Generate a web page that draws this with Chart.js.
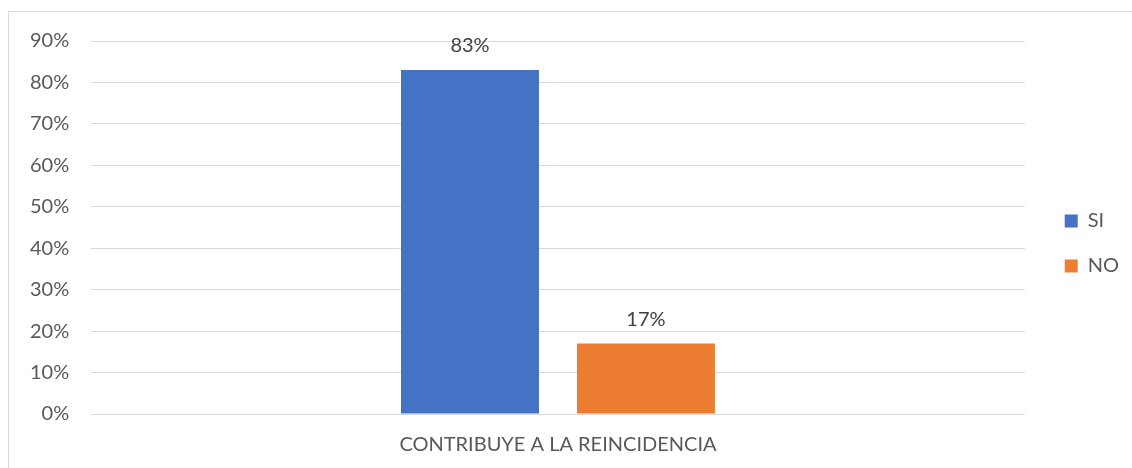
<!DOCTYPE html>
<html>
<head>
<meta charset="utf-8">
<script src="https://cdn.jsdelivr.net/npm/chart.js@4"></script>
<style>
  html, body { margin: 0; padding: 0; background: #fff; }
  #frame { position: absolute; left: 8px; top: 11px; width: 1140px; height: 470px; border: 1px solid #d9d9d9; box-sizing: border-box; }
  #wrap { position: absolute; left: 0; top: 0; width: 1132px; height: 468px; }
</style>
</head>
<body>
<div id="frame"></div>
<div id="wrap"><canvas id="chart"></canvas></div>
<script>
  const categories = ['CONTRIBUYE A LA REINCIDENCIA'];
  const siValues = [83];
  const noValues = [17];
  const yTicks = [0, 10, 20, 30, 40, 50, 60, 70, 80, 90];

  // draws the value above each bar
  const valueLabels = {
    id: 'valueLabels',
    afterDatasetsDraw(chart) {
      const ctx = chart.ctx;
      ctx.save();
      ctx.font = '20px Lato';
      ctx.fillStyle = '#404040';
      ctx.textAlign = 'center';
      ctx.textBaseline = 'bottom';
      chart.data.datasets.forEach((ds, i) => {
        chart.getDatasetMeta(i).data.forEach((bar, j) => {
          ctx.fillText(ds.data[j] + '%', bar.x, bar.y - 14);
        });
      });
      ctx.restore();
    }
  };

  // push the legend a bit away from the plot area
  const legendGap = {
    id: 'legendGap',
    afterUpdate(chart) {
      chart.legend.left += 15;
      chart.legend.right += 15;
      chart.legend.top -= 15;
      chart.legend.bottom -= 15;
    }
  };

  const ctx = document.getElementById('chart').getContext('2d');
  new Chart(ctx, {
    type: 'bar',
    data: {
      labels: categories,
      datasets: [
        { label: 'SI', data: siValues, backgroundColor: '#4472c4' },
        { label: 'NO', data: noValues, backgroundColor: '#ed7d31' }
      ]
    },
    options: {
      responsive: true,
      maintainAspectRatio: false,
      animation: false,
      layout: { padding: { left: 8, right: 18, top: 41, bottom: -8 } },
      datasets: { bar: { categoryPercentage: 0.377, barPercentage: 0.784 } },
      scales: {
        x: {
          grid: { display: false, drawTicks: false },
          border: { display: false },
          ticks: { color: '#595959', font: { family: 'Lato', size: 20 }, padding: 19 }
        },
        y: {
          min: 0,
          max: 90,
          afterBuildTicks: (axis) => { axis.ticks = yTicks.map(v => ({ value: v })); },
          grid: { color: '#d9d9d9', lineWidth: 1, drawTicks: false },
          border: { display: false },
          ticks: {
            color: '#595959',
            font: { family: 'Lato', size: 20 },
            padding: 22,
            callback: (v) => v + '%'
          }
        }
      },
      plugins: {
        legend: {
          position: 'right',
          labels: {
            color: '#595959',
            font: { family: 'Lato', size: 20 },
            boxWidth: 13,
            boxHeight: 13,
            padding: 25
          }
        },
        tooltip: { enabled: false }
      }
    },
    plugins: [valueLabels, legendGap]
  });
</script>
</body>
</html>
